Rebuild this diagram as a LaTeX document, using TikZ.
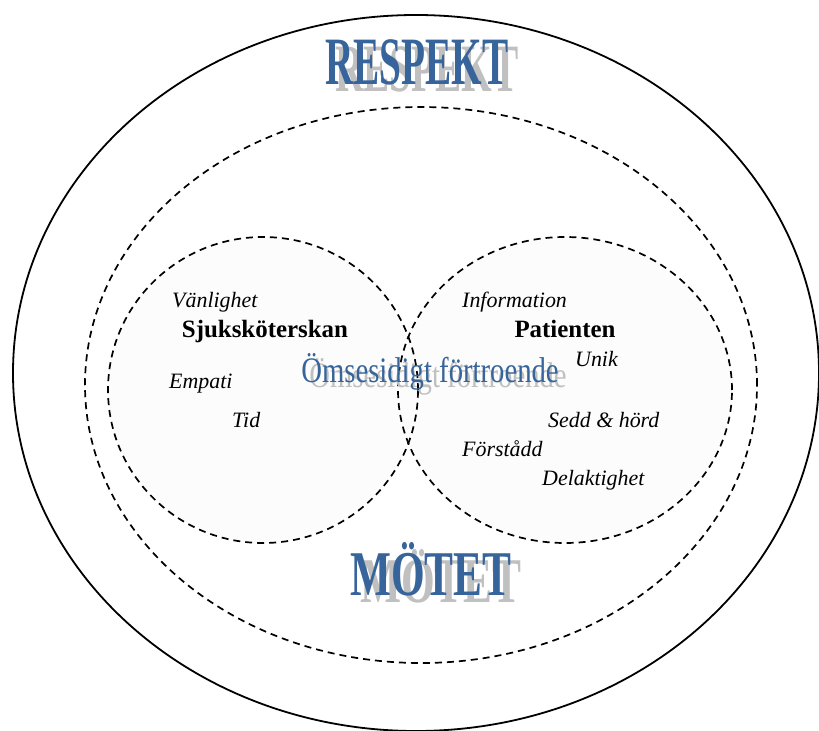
\documentclass[tikz,border=0pt]{standalone}
\usepackage{fontspec}
\setmainfont{Liberation Serif}
\usepackage{tikz}
\definecolor{rubrikblue}{RGB}{54,100,155}
\definecolor{skuggagray}{RGB}{192,192,192}

\begin{document}
\begin{tikzpicture}[x=1bp,y=-1bp,
  ring/.style={line width=1.7bp,dash pattern=on 7bp off 5bp},
  ord/.style={anchor=base west,inner sep=0pt,font=\fontsize{22}{26}\selectfont\itshape},
  person/.style={anchor=base,font=\fontsize{25}{29}\selectfont\bfseries},
  rubrik/.style={anchor=base,text=rubrikblue,inner sep=0pt},
  skugga/.style={anchor=base,text=skuggagray,inner sep=0pt}]
  \useasboundingbox (0,0) rectangle (819,731);
  % outer ring and the meeting
  \draw[line width=1.8bp] (416,373) ellipse [x radius=403bp,y radius=358bp];
  \draw[ring] (421,385) ellipse [x radius=336bp,y radius=278bp];
  \fill[black!1] (263,390) ellipse [x radius=155bp,y radius=153bp];
  \fill[black!1] (565,390) ellipse [x radius=167bp,y radius=153bp];
  \draw[ring] (263,390) ellipse [x radius=155bp,y radius=153bp];
  \draw[ring] (565,390) ellipse [x radius=167bp,y radius=153bp];
  % headings with shadow
  \node[skugga,font=\fontsize{68}{70}\selectfont\bfseries] (respektskugga) at (427,92) {\scalebox{0.58}[1]{RESPEKT}};
  \node[rubrik,font=\fontsize{68}{70}\selectfont\bfseries] (respekt) at (417,85) {\scalebox{0.58}[1]{RESPEKT}};
  \node[skugga,font=\fontsize{64}{66}\selectfont\bfseries] (motetskugga) at (441,602) {\scalebox{0.68}[1]{MÖTET}};
  \node[rubrik,font=\fontsize{64}{66}\selectfont\bfseries] (motet) at (431,595) {\scalebox{0.68}[1]{MÖTET}};
  \node[skugga,font=\fontsize{36}{38}\selectfont] (fortroendeskugga) at (438,387) {\scalebox{0.8}[1]{Ömsesidigt förtroende}};
  \node[rubrik,font=\fontsize{36}{38}\selectfont] (fortroende) at (430,382) {\scalebox{0.8}[1]{Ömsesidigt förtroende}};
  % the two persons
  \node[person] (sjukskoterskan) at (265,337) {Sjuksköterskan};
  \node[person] (patienten) at (565,337) {Patienten};
  % words
  \node[ord] (vanlighet) at (172,307) {Vänlighet};
  \node[ord] (empati) at (169,388) {Empati};
  \node[ord] (tid) at (232,427) {Tid};
  \node[ord] (information) at (462,307) {Information};
  \node[ord] (unik) at (575,366) {Unik};
  \node[ord] (sedd) at (548,427) {Sedd \& hörd};
  \node[ord] (forstadd) at (462,456) {Förstådd};
  \node[ord] (delaktighet) at (542,485) {Delaktighet};
\end{tikzpicture}
\end{document}
